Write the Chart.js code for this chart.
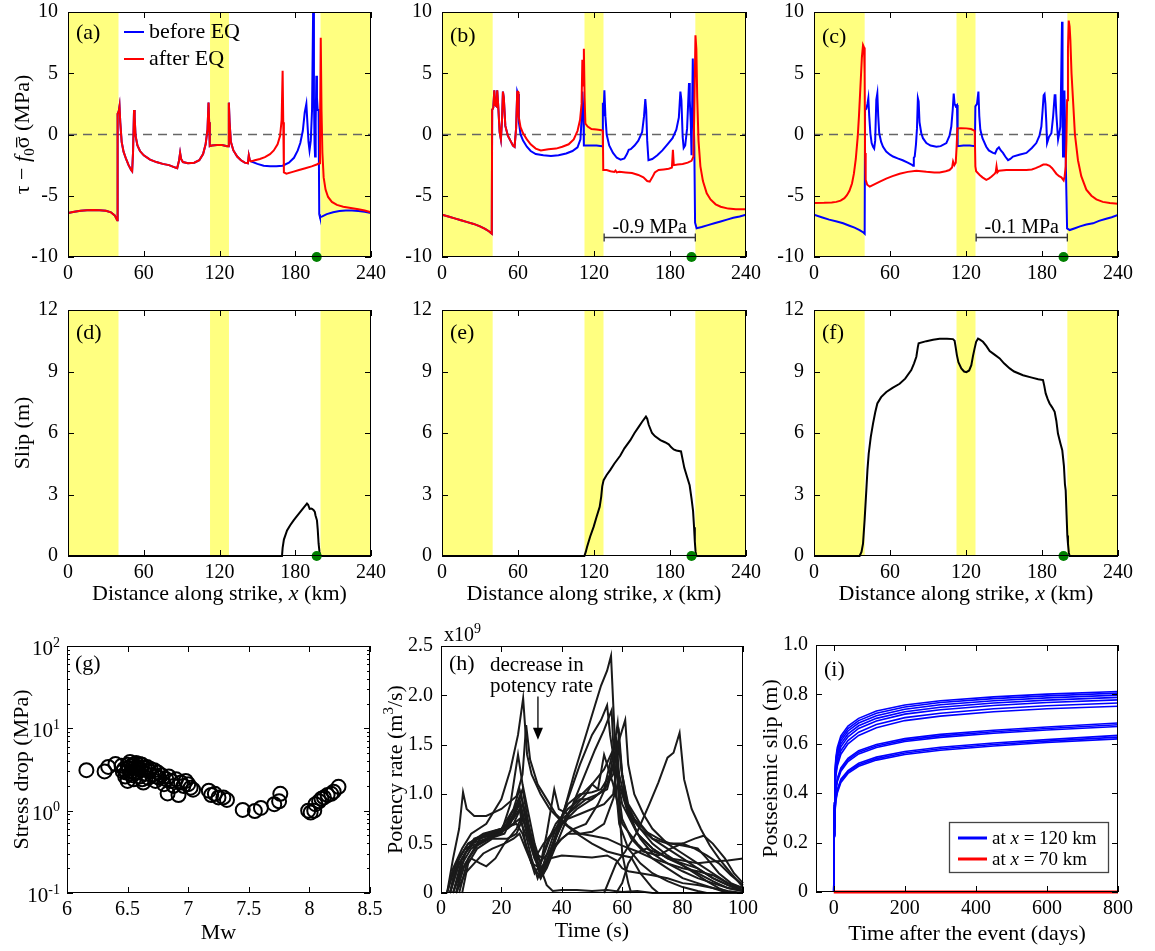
<!DOCTYPE html>
<html lang="en">
<head>
  <meta charset="UTF-8" />
  <title>Stress, slip, stress drop, potency rate and postseismic slip</title>
  <script src="https://cdn.jsdelivr.net/npm/chart.js"></script>
  <style>
    body {
      margin: 0;
      background: #fff;
      width: 1155px;
      height: 951px;
      position: relative;
      overflow: hidden;
    }
    canvas { position: absolute; }
  </style>
</head>
<body>
  <canvas id="pa"></canvas>
  <canvas id="pb"></canvas>
  <canvas id="pc"></canvas>
  <canvas id="pd"></canvas>
  <canvas id="pe"></canvas>
  <canvas id="pf"></canvas>
  <canvas id="pg"></canvas>
  <canvas id="ph"></canvas>
  <canvas id="pi"></canvas>

  <script>
    // ---- data ----
    const strikeTicks = [0, 60, 120, 180, 240];
    const stressTicks = [-10, -5, 0, 5, 10];
    const stressLabels = ['-10', '-5', '0', '5', '10'];
    const slipTicks = [0, 3, 6, 9, 12];
    const bands = [[0, 40], [112.5, 127.5], [200, 240]];
    const hypoX = 197;

    // (a) stress before / after EQ
    const aCommon = [[0,-6.4],[5,-6.3],[10,-6.22],[15,-6.18],[20,-6.17],[25,-6.18],[30,-6.22],[34,-6.35],[37,-6.6],[39,-7.0],[39.3,1.7],[40.2,1.9],[40.8,2.3],[41.4,1.0],[42.5,-0.6],[44,-1.4],[46,-2.0],[48,-2.5],[50,-2.9],[50.8,-3.0],[51.5,-1.5],[52.3,2.0],[52.8,1.4],[53.5,-0.1],[55,-0.9],[57,-1.35],[60,-1.7],[65,-2.05],[70,-2.25],[75,-2.4],[80,-2.5],[85,-2.7],[86.5,-2.75],[88,-2.1],[88.8,-1.5],[89.6,-2.0],[91,-2.25],[95,-2.35],[100,-2.3],[104,-2.1],[107,-1.6],[109,-0.8],[110.5,0.4],[111.3,2.6],[111.8,1.0],[112.3,-0.95],[114,-0.9],[118,-0.85],[122,-0.85],[126,-0.95],[126.8,-0.95],[127.4,2.6],[128,1.0],[129,-0.6],[131,-1.3],[134,-1.8],[137,-2.1],[140,-2.3],[142.5,-2.35],[143.2,-1.7],[144,-2.1],[145,-2.2]];
    const aBeforeTail = [[150,-2.4],[155,-2.55],[160,-2.6],[165,-2.6],[170,-2.55],[175,-2.3],[179,-1.9],[182,-1.3],[184,-0.7],[186,0.3],[187.5,1.8],[188.8,2.5],[189.6,1.0],[190.5,-0.6],[191.3,-1.3],[192.3,-0.5],[193.3,2.0],[194.2,10.5],[194.8,3.0],[195.3,-0.8],[195.7,-1.8],[196.2,1.0],[196.7,4.8],[197.2,3.0],[197.8,2.0],[198.5,2.0],[199,-6.5],[199.6,-6.75],[201,-6.7],[205,-6.5],[210,-6.35],[215,-6.25],[220,-6.2],[225,-6.2],[230,-6.25],[235,-6.3],[240,-6.4]];
    const aAfterTail = [[148,-2.1],[152,-2.0],[156,-1.85],[160,-1.6],[163,-1.3],[166,-0.8],[168,-0.1],[169.2,1.2],[170,5.2],[170.5,1.0],[171,-3.1],[173,-3.2],[178,-3.05],[183,-2.9],[188,-2.75],[193,-2.6],[197,-2.45],[199,-2.35],[199.6,0],[200.2,7.9],[200.8,2.0],[201.5,-1.5],[202.5,-3.5],[204,-4.5],[206,-5.1],[209,-5.5],[213,-5.75],[218,-5.9],[224,-6.0],[230,-6.1],[235,-6.2],[240,-6.35]];

    // (b)
    const bCommon = [[0,-6.55],[5,-6.7],[10,-6.85],[15,-7.0],[20,-7.15],[25,-7.3],[30,-7.5],[34,-7.7],[37,-7.9],[39.3,-8.1],[39.6,2.0],[40.5,2.2],[41.3,3.6],[42,2.4],[43,2.3],[43.6,3.6],[44.3,2.5],[45.5,0.2],[46.5,-0.4],[47.3,1.0],[48.1,3.5],[48.8,3.0],[50,0.7],[52,-0.1],[54,-0.5],[56,-0.9],[57.3,-1.0]];
    const bBeforeTail = [[58.5,0.5],[59.4,3.5],[60,3.3],[60.7,1.0],[62,0.0],[64,-0.5],[67,-1.0],[70,-1.35],[74,-1.6],[80,-1.7],[86,-1.75],[92,-1.7],[98,-1.55],[103,-1.35],[107,-1.05],[109.3,-0.4],[110.3,1.5],[110.8,3.5],[111.5,2.2],[112,-0.9],[116,-0.9],[122,-0.9],[126.5,-0.95],[127,2.6],[127.5,1.5],[128.2,3.6],[129,1.5],[130,0.0],[132,-0.9],[135,-1.5],[138,-1.9],[141,-2.05],[144,-1.95],[146,-1.6],[147.4,-1.25],[149,-1.2],[152,-0.9],[155,-0.5],[158,0.2],[159.5,1.5],[160.5,2.9],[161.2,2.0],[162,-0.5],[163,-2.1],[166,-2.0],[170,-1.7],[174,-1.3],[178,-0.8],[182,-0.3],[185,0.4],[187,1.4],[188.2,3.5],[189,2.8],[190,-0.2],[190.8,-1.1],[192,-0.9],[193.5,0.5],[195,4.2],[195.6,2.8],[196.4,1.0],[197,-1.7],[198,6.2],[198.6,2.0],[199.2,-1.0],[199.8,-7.2],[201,-7.65],[205,-7.55],[210,-7.4],[215,-7.25],[220,-7.1],[225,-6.95],[230,-6.8],[235,-6.7],[240,-6.55]];
    const bAfterTail = [[58.5,0.5],[59.4,3.5],[60,3.5],[60.5,1.5],[62,0.6],[64,0.1],[67,-0.4],[70,-0.8],[74,-1.15],[78,-1.3],[84,-1.2],[90,-1.15],[95,-1.0],[100,-0.8],[104,-0.4],[107,0.3],[109,1.2],[110.2,2.5],[110.8,6.1],[111.4,4.0],[112,7.0],[112.6,3.0],[113.2,0.9],[115,0.65],[118,0.45],[122,0.4],[126,0.35],[127,0.3],[127.3,-2.9],[130,-2.9],[133,-3.0],[136,-3.05],[137,-2.95],[138,-3.1],[140,-3.05],[145,-3.1],[150,-3.15],[155,-3.3],[159,-3.5],[162,-3.8],[164,-3.85],[166,-3.5],[168,-3.1],[171,-2.9],[175,-2.85],[179,-2.8],[181.5,-2.7],[182.3,-1.25],[183,-2.5],[186,-2.45],[190,-2.4],[194,-2.3],[197,-2.15],[198.5,-1.8],[199.2,2.0],[200.1,8.1],[200.8,7.0],[201.5,3.0],[202.5,-0.5],[204,-2.6],[206,-3.8],[209,-4.8],[212,-5.3],[216,-5.7],[220,-5.9],[226,-6.05],[232,-6.1],[240,-6.1]];

    // (c)
    const cBefore = [[0,-6.55],[6,-6.75],[12,-6.95],[18,-7.1],[23,-7.25],[28,-7.45],[32,-7.6],[36,-7.8],[39,-8.0],[40,-8.1],[40.3,2.0],[41.3,2.1],[42.2,2.5],[42.9,2.96],[43.6,1.5],[44.5,0.1],[45.5,-0.7],[46.6,-1.0],[47.5,-1.15],[48.3,-0.5],[49.2,2.85],[50,3.35],[50.7,1.5],[51.5,0.1],[53,-0.6],[54.5,-1.0],[57,-1.4],[60,-1.65],[62.4,-1.8],[66,-1.95],[70,-2.1],[74,-2.3],[77,-2.45],[78.2,-2.55],[78.8,-1.9],[79.5,-1.8],[80.5,-0.8],[81.3,0.5],[82,2.96],[82.6,2.7],[83.3,1.0],[84.7,0.1],[86,-0.3],[88.7,-0.7],[92,-0.9],[96.6,-1.0],[100,-0.95],[104.5,-0.7],[107,-0.1],[108.4,0.65],[109.5,2.0],[110.3,3.35],[111,2.5],[111.9,2.3],[112.9,2.4],[113.4,-0.95],[118,-0.9],[123,-0.9],[127,-0.95],[127.4,2.3],[128.7,2.5],[129.8,3.5],[130.5,1.5],[131.3,0.4],[133,-0.3],[136,-1.0],[138,-1.3],[141.3,-1.5],[143,-1.55],[144.5,-1.2],[146,-1.05],[147.5,-1.3],[149.2,-1.5],[151,-1.8],[153.2,-2.1],[155,-2.0],[157.1,-1.8],[162,-1.65],[167.7,-1.5],[172,-1.1],[175.5,-0.7],[178,-0.1],[179.5,0.65],[180.5,2.0],[181.3,3.2],[182,3.3],[182.7,2.5],[183.4,1.0],[184,-0.7],[185.5,-0.2],[187.4,0.1],[188.8,1.5],[190,3.2],[190.6,3.2],[191.3,1.7],[192.7,-0.4],[193.8,0.2],[194.5,0.65],[195.2,5.0],[195.8,9.2],[196.2,2.0],[196.6,-1.8],[197.2,1.0],[197.7,3.6],[198.2,1.0],[198.7,-1.8],[199.3,-5.0],[199.8,-7.66],[201.9,-7.8],[206,-7.65],[210,-7.5],[215,-7.35],[220.3,-7.25],[225,-7.05],[230,-6.9],[235,-6.75],[240,-6.57]];
    const cAfter = [[0,-5.6],[8,-5.58],[14,-5.55],[17.6,-5.5],[21,-5.4],[24,-5.2],[26,-4.95],[28,-4.6],[30,-4.0],[31.5,-3.2],[33,-2.0],[34.5,-0.2],[35.5,1.5],[36.8,4.2],[37.8,6.3],[38.7,7.3],[39.5,7.1],[40,5.0],[40.3,-1.5],[40.8,-3.7],[42,-4.1],[44,-4.25],[46,-4.15],[48,-4.05],[52,-3.85],[57,-3.6],[62,-3.4],[67.6,-3.2],[74,-3.05],[80.8,-2.96],[88.7,-3.05],[95,-3.1],[99.2,-3.1],[104,-3.0],[107,-2.9],[109,-2.7],[109.8,-2.2],[110.8,-2.5],[111.9,-2.3],[112.6,-1.0],[113.2,0.5],[116,0.52],[120.3,0.5],[124,0.45],[126.9,0.3],[127.4,-2.6],[128,-3.0],[130.8,-3.3],[133,-3.5],[136,-3.7],[138,-3.6],[140,-3.45],[142.7,-3.2],[143.5,-3.05],[144.1,-2.6],[144.8,-3.1],[146,-2.95],[151.9,-2.9],[160,-2.9],[167.7,-2.9],[172,-2.85],[175,-2.75],[178.2,-2.6],[181,-2.45],[183.5,-2.45],[186,-2.55],[188,-2.75],[191.3,-3.2],[193.5,-3.4],[195.3,-3.5],[197.1,-3.75],[197.9,-3.4],[198.7,-2.6],[199.3,-0.5],[199.8,2.8],[200.5,7.0],[201.1,9.3],[201.8,8.8],[202.4,7.7],[203.3,5.0],[204.5,2.8],[206,0.0],[208.4,-2.1],[211,-3.4],[215,-4.5],[219,-5.0],[222.9,-5.3],[228,-5.5],[233.5,-5.6],[240,-5.65]];

    // (d)-(f) coseismic slip
    const dSlip = [[0,0],[169.5,0],[170,0.4],[171,0.8],[173.5,1.25],[176,1.5],[178.7,1.74],[181,1.92],[184,2.15],[187,2.38],[189.3,2.56],[190.2,2.5],[191.4,2.3],[192.5,2.32],[193.3,2.3],[194.6,2.23],[195.5,2.15],[196,1.99],[197.2,1.74],[197.8,1.3],[198.5,0.6],[199.2,0.2],[199.9,0],[240,0]];
    const eSlip = [[0,0],[112.4,0],[113.5,0.2],[114.5,0.44],[117,0.95],[119.7,1.42],[122,1.9],[124.5,2.4],[125.7,2.9],[126.5,3.4],[127.6,3.7],[130,3.95],[132.9,4.2],[136,4.5],[140.8,4.9],[144,5.25],[148.7,5.65],[152,6.0],[155.3,6.3],[158,6.55],[161,6.8],[162,6.7],[163.2,6.4],[165.8,6.0],[168,5.85],[172.4,5.65],[176,5.55],[179,5.45],[181,5.3],[182.9,5.2],[185,5.15],[188.7,5.1],[190,4.7],[191.3,4.3],[193.5,3.85],[195.5,3.45],[197,2.8],[198.2,2.2],[199,1.4],[199.6,0.7],[200.2,0.2],[200.8,0],[240,0]];
    const fSlip = [[0,0],[36,0],[37.5,0.2],[38.7,0.6],[40,1.8],[41.3,3.2],[42.2,4.2],[43.2,5.0],[44.8,5.8],[46.6,6.46],[48.3,7.0],[50,7.44],[53,7.75],[57.1,8.0],[62,8.2],[67.6,8.4],[72,8.65],[76.8,9.07],[79,9.4],[80.8,9.72],[82,10.2],[82.6,10.37],[88.7,10.48],[94,10.55],[99.2,10.6],[105,10.6],[109.7,10.58],[111,10.5],[111.8,10.2],[112.8,9.8],[114,9.45],[116.3,9.15],[118.5,9.0],[120.3,8.97],[122.5,9.05],[124.2,9.31],[125.5,9.75],[126.8,10.13],[128,10.45],[129.5,10.6],[131,10.55],[133.4,10.45],[136,10.25],[138.7,10.0],[142,9.85],[146.6,9.64],[150,9.4],[154.5,9.15],[158,9.0],[165,8.82],[172,8.7],[177,8.62],[180.8,8.58],[181.8,8.3],[182.9,7.93],[184.5,7.65],[186,7.44],[188,7.25],[190,7.03],[191.3,6.6],[192.6,5.97],[194.5,5.5],[196,5.16],[197.3,4.4],[198.1,3.5],[198.7,3.2],[199.4,2.0],[200,1.0],[200.5,0.6],[201.2,0.15],[201.8,0],[240,0]];

    // (g) stress drop vs Mw
    const mwTicks = [6, 6.5, 7, 7.5, 8, 8.5];
    const mwLabels = ['6', '6.5', '7', '7.5', '8', '8.5'];
    const dropTicks = [0.1, 1, 10, 100];
    const dropExponents = ['-1', '0', '1', '2'];
    const mw = [6.16,6.31,6.34,6.40,6.45,6.46,6.47,6.48,6.49,6.50,6.50,6.51,6.52,6.52,6.53,6.53,6.54,6.55,6.55,6.56,6.56,6.57,6.58,6.58,6.59,6.60,6.60,6.61,6.62,6.62,6.63,6.64,6.65,6.66,6.67,6.68,6.69,6.70,6.72,6.73,6.74,6.75,6.76,6.78,6.80,6.82,6.83,6.84,6.86,6.88,6.90,6.92,6.94,6.96,6.98,7.00,7.02,7.04,7.17,7.19,7.22,7.25,7.29,7.32,7.45,7.55,7.60,7.71,7.75,7.76,7.99,8.01,8.04,8.05,8.08,8.10,8.12,8.15,8.18,8.20,8.24];
    const stressDrop = [3.1,3.0,3.4,3.7,3.5,3.0,3.2,2.6,2.9,3.6,2.3,3.3,3.9,2.8,3.0,3.5,2.7,3.6,2.4,3.3,2.9,3.8,2.9,3.3,3.4,2.6,3.7,3.1,3.6,2.4,2.2,3.3,2.8,3.4,2.5,3.0,3.2,2.7,3.1,2.3,2.6,2.9,2.5,2.7,2.1,2.4,1.62,2.6,2.3,2.0,2.4,1.55,2.2,2.0,2.3,2.1,1.9,1.8,1.75,1.55,1.6,1.45,1.45,1.35,1.02,0.99,1.08,1.2,1.3,1.6,1.0,0.95,1.0,1.2,1.3,1.4,1.45,1.55,1.6,1.7,1.95];

    // (h) potency rate (x10^9 m^3/s) vs time (s)
    const timeTicks = [0, 20, 40, 60, 80, 100];
    const potTicks = [0, 0.5, 1.0, 1.5, 2.0, 2.5];
    const potLabels = ['0', '0.5', '1.0', '1.5', '2.0', '2.5'];
    const h1 = [[2,0],[4,0.25],[7,0.45],[10,0.6],[15,0.7],[20,0.95],[23,1.25],[25.5,1.6],[27.2,1.97],[28.5,1.4],[30,1.2],[33,1.0],[36,0.85],[40,0.72],[45,0.6],[50,0.5],[55,0.42],[60,0.38],[63,0.36],[66,0.2],[70,0.05],[72,0]];
    const h2 = [[2,0],[4,0.35],[6,0.65],[7.3,1.02],[8.5,0.85],[11,0.78],[15,0.78],[20,0.85],[25,0.98],[27,1.2],[28.2,1.7],[29.5,1.35],[32,1.1],[35,0.95],[38,0.8],[42,0.68],[46,0.6],[50,0.58],[55,0.55],[60,0.48],[65,0.42],[70,0.35],[75,0.3],[80,0.25],[85,0.22],[90,0.18],[95,0.1],[100,0.05]];
    const h3 = [[3,0],[5,0.3],[9,0.5],[14,0.58],[20,0.6],[24,0.8],[26,0.95],[29,0.55],[32,0.3],[34,0.2],[36,0.35],[40,0.75],[44,1.2],[48,1.6],[51,1.9],[53,2.1],[55,2.25],[56.3,2.4],[57.5,1.6],[59,0.9],[60,0.4],[62,0.1],[63,0]];
    const h4 = [[3,0],[6,0.3],[10,0.5],[15,0.6],[20,0.65],[24,0.85],[26,1.05],[28,0.8],[31,0.45],[33,0.2],[35,0.3],[38,0.6],[42,0.95],[46,1.3],[50,1.6],[53,1.75],[55,1.9],[56,1.6],[57.5,1.3],[60,0.9],[65,0.6],[70,0.45],[75,0.35],[80,0.3],[85,0.25],[90,0.15],[95,0.08],[100,0.02]];
    const h5 = [[4,0],[7,0.3],[10,0.45],[15,0.55],[20,0.6],[25,0.9],[27,1.05],[29,0.7],[31,0.4],[33,0.15],[35,0.25],[39,0.55],[43,0.85],[47,1.15],[51,1.45],[54,1.65],[56.5,1.85],[57.5,1.2],[59,0.7],[62,0.45],[66,0.3],[70,0.2],[75,0.12],[80,0.06],[85,0.02],[88,0]];
    const h6 = [[5,0],[8,0.3],[12,0.48],[18,0.58],[24,0.7],[27,0.9],[30,0.55],[32,0.3],[34,0.25],[37,0.5],[41,0.75],[45,0.95],[50,1.1],[54,1.25],[57,1.45],[59,1.55],[61,1.75],[62,1.3],[64,1.0],[67,0.8],[70,0.65],[75,0.5],[80,0.4],[85,0.3],[90,0.2],[95,0.1],[100,0.03]];
    const h7 = [[4,0],[7,0.35],[11,0.55],[16,0.6],[22,0.65],[26,0.75],[28,0.6],[30,0.35],[32,0.15],[34,0.3],[38,0.65],[42,0.9],[46,1.0],[50,1.02],[53,1.05],[56,1.2],[58.5,1.72],[59.5,1.3],[61,0.95],[64,0.75],[68,0.62],[72,0.55],[76,0.5],[80,0.48],[85,0.45],[88,0.35],[92,0.2],[96,0.1],[100,0.05]];
    const h8 = [[3,0],[6,0.35],[9,0.5],[14,0.6],[20,0.65],[25,0.7],[27,0.6],[30,0.3],[33,0.15],[36,0.4],[40,0.7],[45,0.85],[50,0.95],[54,1.05],[57,1.2],[59,1.6],[60,1.2],[62,0.9],[66,0.7],[70,0.55],[75,0.45],[80,0.35],[85,0.25],[90,0.15],[95,0.08],[100,0.02]];
    const h9 = [[2,0],[5,0.3],[8,0.45],[12,0.5],[16,0.55],[21,0.6],[25,0.85],[26.5,1.0],[28,0.75],[30,0.5],[33,0.3],[36,0.55],[40,0.75],[44,0.85],[48,0.95],[52,1.0],[55,1.05],[58,1.4],[59,1.1],[62,0.85],[66,0.65],[70,0.5],[75,0.38],[80,0.28],[84,0.2],[88,0.12],[92,0.05],[96,0]];
    const h10 = [[3,0],[6,0.3],[10,0.5],[15,0.55],[20,0.62],[23,0.9],[25.5,1.4],[27,1.1],[29,0.8],[31,0.5],[33,0.3],[35,0.5],[38,0.7],[42,0.85],[46,0.95],[50,0.95],[54,1.05],[57,1.45],[58,1.55],[59,1.2],[62,0.8],[66,0.55],[70,0.4],[75,0.3],[80,0.22],[85,0.15],[90,0.1],[95,0.05],[100,0.02]];
    const h11 = [[4,0],[7,0.25],[10,0.35],[13,0.3],[15,0.27],[18,0.35],[21,0.5],[25,0.65],[27,0.8],[29,0.55],[31,0.35],[34,0.5],[38,0.65],[42,0.75],[46,0.8],[50,0.85],[54,0.9],[57,1.0],[59,1.5],[60,1.2],[62,0.85],[65,0.6],[70,0.45],[75,0.35],[80,0.28],[85,0.2],[90,0.12],[95,0.05],[100,0.02]];
    const h12 = [[5,0],[8,0.2],[11,0.3],[14,0.4],[17,0.45],[21,0.5],[24,0.55],[26,0.6],[28,0.45],[30,0.3],[33,0.25],[36,0.35],[40,0.38],[45,0.37],[50,0.36],[55,0.38],[58,0.33],[60,0.25],[62,0.22],[66,0.2],[70,0.18],[75,0.15],[80,0.1],[85,0.08],[90,0.05],[95,0.02],[100,0]];
    const h13 = [[54,0],[56,0.15],[58,0.3],[61,0.42],[65,0.62],[69,0.9],[72,1.12],[75,1.37],[77,1.42],[79,1.62],[80.5,1.15],[83,0.85],[86,0.65],[89,0.48],[92,0.35],[96,0.2],[100,0.06]];
    const h14 = [[33,0.25],[35,0.08],[37,0.02],[40,0.03],[45,0.03],[50,0.02],[55,0.03],[60,0.01],[65,0.02],[70,0],[100,0]];
    const h15 = [[58,0],[60,0.1],[62,0.3],[64,0.4],[68,0.45],[72,0.4],[76,0.35],[80,0.33],[85,0.3],[90,0.32],[95,0.33],[100,0.35]];
    const h16 = [[6,0],[9,0.35],[13,0.55],[18,0.6],[23,0.7],[26,0.9],[28,0.65],[31,0.35],[33,0.2],[36,0.4],[40,0.55],[44,0.65],[48,0.7],[52,0.9],[55,1.1],[57,1.3],[58,1.5],[59,1.1],[62,0.8],[66,0.65],[70,0.55],[75,0.5],[80,0.5],[84,0.55],[87,0.58],[90,0.5],[94,0.35],[97,0.2],[100,0.1]];
    const h17 = [[7,0],[9,0.3],[12,0.45],[17,0.55],[22,0.55],[25,0.6],[27,0.75],[29,0.6],[31,0.4],[34,0.35],[38,0.5],[42,0.6],[46,0.6],[50,0.62],[54,0.7],[57,0.95],[58.5,1.1],[60,0.75],[63,0.55],[67,0.42],[72,0.38],[76,0.45],[80,0.5],[84,0.45],[88,0.38],[92,0.3],[96,0.18],[100,0.08]];
    const h18 = [[5,0],[8,0.4],[12,0.55],[18,0.6],[24,0.75],[26,0.85],[28,0.5],[31,0.2],[33,0.3],[35,0.6],[37.5,1.05],[39,0.85],[42,0.8],[45,0.9],[48,1.0],[50,1.1],[52,1.05],[54,1.4],[55,1.3],[57,1.1],[60,0.7],[65,0.5],[70,0.35],[75,0.25],[80,0.15],[85,0.1],[90,0.05],[95,0]];
    const hCurves = [h1, h2, h3, h4, h5, h6, h7, h8, h9, h10, h11, h12, h13, h14, h15, h16, h17, h18];

    // (i) postseismic slip (m) vs days after event
    const dayTicks = [0, 200, 400, 600, 800];
    const psTicks = [0, 0.2, 0.4, 0.6, 0.8, 1.0];
    const psLabels = ['0', '0.2', '0.4', '0.6', '0.8', '1.0'];
    const days = [0, 1, 3, 6, 10, 20, 40, 70, 120, 200, 300, 450, 600, 800];
    const slip120 = [
      [0,0.36,0.48,0.545,0.585,0.632,0.672,0.703,0.733,0.757,0.774,0.790,0.801,0.812],
      [0,0.35,0.47,0.535,0.575,0.622,0.662,0.694,0.724,0.749,0.767,0.783,0.794,0.805],
      [0,0.34,0.46,0.525,0.565,0.612,0.652,0.684,0.714,0.740,0.758,0.774,0.786,0.797],
      [0,0.33,0.45,0.512,0.552,0.600,0.640,0.673,0.703,0.730,0.748,0.765,0.777,0.788],
      [0,0.32,0.44,0.50,0.540,0.588,0.628,0.662,0.692,0.720,0.738,0.755,0.767,0.778],
      [0,0.31,0.425,0.485,0.524,0.572,0.613,0.647,0.678,0.706,0.724,0.742,0.754,0.765],
      [0,0.30,0.41,0.47,0.510,0.558,0.600,0.634,0.665,0.694,0.712,0.730,0.742,0.752],
      [0,0.27,0.37,0.425,0.46,0.503,0.541,0.572,0.597,0.621,0.638,0.655,0.668,0.684],
      [0,0.265,0.362,0.418,0.453,0.496,0.535,0.566,0.591,0.615,0.632,0.649,0.662,0.677],
      [0,0.26,0.355,0.41,0.446,0.489,0.528,0.559,0.585,0.609,0.626,0.643,0.656,0.670],
      [0,0.235,0.33,0.383,0.415,0.457,0.492,0.521,0.546,0.569,0.586,0.603,0.617,0.634],
      [0,0.23,0.323,0.376,0.408,0.450,0.486,0.515,0.540,0.563,0.580,0.597,0.611,0.627],
      [0,0.225,0.316,0.369,0.401,0.443,0.480,0.509,0.534,0.557,0.574,0.591,0.605,0.620]
    ];
    const slip70 = [0, 0, 0, 0, 0, 0, 0, 0, 0, 0, 0, 0, 0, 0];

    // ---- drawing ----
    const FONT = '"Liberation Serif", "Times New Roman", serif';
    const YELLOW = '#ffff80';
    Chart.defaults.font.family = FONT;
    Chart.defaults.font.size = 20;
    Chart.defaults.color = '#000';
    Chart.defaults.animation = false;
    Chart.defaults.events = [];
    Chart.defaults.plugins.legend.display = false;
    Chart.defaults.plugins.tooltip.enabled = false;

    const PAD = { l: 70, t: 30, r: 30, b: 60 };

    function axis(dir, type, min, max, ticks, labels, pad) {
      return {
        type, min, max,
        afterBuildTicks: s => { s.ticks = ticks.map(v => ({ value: v })); },
        afterFit: s => { if (dir === 'x') s.height = PAD.b; else s.width = PAD.l; },
        grid: { display: false, drawTicks: false },
        border: { display: false },
        ticks: { autoSkip: false, maxRotation: 0, padding: pad, color: '#000', font: { size: 20 },
          callback: (v, i) => labels ? labels[i] : '' }
      };
    }

    // text with italic / subscript / superscript / overbar pieces
    function rich(ctx, parts, x, y, size, rot, align) {
      ctx.save();
      ctx.translate(x, y);
      if (rot) ctx.rotate(rot);
      const fontOf = p => (p.i ? 'italic ' : '') + Math.round(p.sub || p.sup ? size * 0.68 : size) + 'px ' + FONT;
      let w = 0;
      parts.forEach(p => { ctx.font = fontOf(p); p.w = ctx.measureText(p.t).width; w += p.w; });
      let cx = align === 'left' ? 0 : align === 'right' ? -w : -w / 2;
      const base = size * 0.33;
      ctx.fillStyle = '#000';
      ctx.textAlign = 'left';
      ctx.textBaseline = 'alphabetic';
      parts.forEach(p => {
        ctx.font = fontOf(p);
        const dy = base + (p.sub ? size * 0.22 : p.sup ? -size * 0.4 : 0);
        ctx.fillText(p.t, cx, dy);
        if (p.bar) ctx.fillRect(cx + 1, base - size * 0.6, p.w - 2, 1.2);
        cx += p.w;
      });
      ctx.restore();
    }

    function decor(o) {
      return {
        id: 'decor',
        beforeDatasetsDraw(chart) {
          if (!o.bands) return;
          const { ctx, chartArea: a, scales: { x } } = chart;
          ctx.save();
          ctx.fillStyle = YELLOW;
          o.bands.forEach(([b0, b1]) => {
            const p0 = x.getPixelForValue(b0), p1 = x.getPixelForValue(b1);
            ctx.fillRect(p0, a.top, p1 - p0, a.bottom - a.top);
          });
          ctx.restore();
        },
        afterDraw(chart) {
          const { ctx, chartArea: a, scales: { x, y } } = chart;
          ctx.save();
          ctx.strokeStyle = '#000';
          ctx.lineWidth = 1;
          ctx.strokeRect(a.left + 0.5, a.top + 0.5, a.right - a.left - 1, a.bottom - a.top - 1);
          ctx.beginPath();
          x.ticks.forEach(t => {
            const px = Math.round(x.getPixelForValue(t.value)) + 0.5;
            ctx.moveTo(px, a.bottom); ctx.lineTo(px, a.bottom - 6);
            ctx.moveTo(px, a.top); ctx.lineTo(px, a.top + 6);
          });
          y.ticks.forEach(t => {
            const py = Math.round(y.getPixelForValue(t.value)) + 0.5;
            ctx.moveTo(a.left, py); ctx.lineTo(a.left + 6, py);
            ctx.moveTo(a.right, py); ctx.lineTo(a.right - 6, py);
          });
          if (o.minorLog) {
            o.minorLog.forEach(v => {
              const py = Math.round(y.getPixelForValue(v)) + 0.5;
              ctx.moveTo(a.left, py); ctx.lineTo(a.left + 3, py);
              ctx.moveTo(a.right, py); ctx.lineTo(a.right - 3, py);
            });
          }
          ctx.stroke();
          ctx.restore();

          ctx.save();
          ctx.fillStyle = '#000';
          ctx.font = '22px ' + FONT;
          ctx.textBaseline = 'middle';
          ctx.fillText(o.label, a.left + 8, a.top + (o.labelDy || 22));
          ctx.restore();

          if (o.ytitle) rich(ctx, o.ytitle, a.left - 46, (a.top + a.bottom) / 2, 22, -Math.PI / 2);
          if (o.xtitle) rich(ctx, o.xtitle, (a.left + a.right) / 2, a.bottom + (o.xtitleDy || 38), 22);
          if (o.extra) o.extra(chart, ctx, a, x, y);
        }
      };
    }

    function makeChart(id, box, datasets, xs, ys, deco) {
      const cv = document.getElementById(id);
      const [L, T, R, B] = box;
      cv.width = R - L + PAD.l + PAD.r;
      cv.height = B - T + PAD.t + PAD.b;
      cv.style.left = (L - PAD.l) + 'px';
      cv.style.top = (T - PAD.t) + 'px';
      return new Chart(cv, {
        type: 'line',
        data: { datasets },
        options: {
          responsive: false,
          layout: { padding: { left: 0, top: PAD.t, right: PAD.r, bottom: 0 } },
          scales: { x: xs, y: ys }
        },
        plugins: [decor(deco)]
      });
    }

    const line = (data, color, width, extra) => Object.assign(
      { type: 'line', data, borderColor: color, borderWidth: width, pointRadius: 0, fill: false, tension: 0 }, extra || {});
    const dot = (yv) => ({ type: 'scatter', data: [[hypoX, yv]], pointRadius: 5, backgroundColor: '#008000', borderWidth: 0, clip: false });
    const zeroDash = line([[0, 0], [240, 0]], '#666', 1.3, { borderDash: [9, 6] });

    const stressTitle = [{ t: 'τ − ' }, { t: 'f', i: 1 }, { t: '0', sub: 1 }, { t: 'σ', bar: 1 }, { t: ' (MPa)' }];
    const strikeTitle = [{ t: 'Distance along strike, ' }, { t: 'x', i: 1 }, { t: ' (km)' }];

    function legendA(chart, ctx, a) {
      ctx.save();
      ctx.lineWidth = 2;
      [['#0000ff', 'before EQ', 20], ['#ff0000', 'after EQ', 47]].forEach(([c, t, dy]) => {
        ctx.strokeStyle = c;
        ctx.beginPath(); ctx.moveTo(a.left + 56, a.top + dy); ctx.lineTo(a.left + 76, a.top + dy); ctx.stroke();
        ctx.fillStyle = '#000'; ctx.font = '22px ' + FONT; ctx.textBaseline = 'middle';
        ctx.fillText(t, a.left + 81, a.top + dy);
      });
      ctx.restore();
    }

    function bracket(text) {
      return (chart, ctx, a, x, y) => {
        const x0 = x.getPixelForValue(128), x1 = x.getPixelForValue(200), py = Math.round(y.getPixelForValue(-8.4)) + 0.5;
        ctx.save();
        ctx.strokeStyle = '#333'; ctx.lineWidth = 1.3;
        ctx.beginPath();
        ctx.moveTo(x0, py); ctx.lineTo(x1, py);
        ctx.moveTo(x0, py - 4); ctx.lineTo(x0, py + 4);
        ctx.moveTo(x1, py - 4); ctx.lineTo(x1, py + 4);
        ctx.stroke();
        ctx.fillStyle = '#000'; ctx.font = '20px ' + FONT; ctx.textAlign = 'center'; ctx.textBaseline = 'alphabetic';
        ctx.fillText(text, (x0 + x1) / 2, py - 5);
        ctx.restore();
      };
    }

    // row 1
    makeChart('pa', [68, 12, 371, 257],
      [dot(-10), line(aCommon.concat(aAfterTail), '#ff0000', 2), line(aCommon.concat(aBeforeTail), '#0000ff', 2), zeroDash],
      axis('x', 'linear', 0, 240, strikeTicks, strikeTicks.map(String), 5),
      axis('y', 'linear', -10, 10, stressTicks, stressLabels, 10),
      { bands, label: '(a)', labelDy: 21, ytitle: stressTitle, extra: legendA });
    makeChart('pb', [442, 12, 746, 257],
      [dot(-10), line(bCommon.concat(bAfterTail), '#ff0000', 2), line(bCommon.concat(bBeforeTail), '#0000ff', 2), zeroDash],
      axis('x', 'linear', 0, 240, strikeTicks, strikeTicks.map(String), 5),
      axis('y', 'linear', -10, 10, stressTicks, stressLabels, 10),
      { bands, label: '(b)', labelDy: 24, extra: bracket('-0.9 MPa') });
    makeChart('pc', [814, 12, 1118, 257],
      [dot(-10), line(cAfter, '#ff0000', 2), line(cBefore, '#0000ff', 2), zeroDash],
      axis('x', 'linear', 0, 240, strikeTicks, strikeTicks.map(String), 5),
      axis('y', 'linear', -10, 10, stressTicks, stressLabels, 10),
      { bands, label: '(c)', labelDy: 25, extra: bracket('-0.1 MPa') });

    // row 2
    [['pd', 68, 371, dSlip, '(d)'], ['pe', 442, 746, eSlip, '(e)'], ['pf', 814, 1118, fSlip, '(f)']].forEach(([id, L, R, s, lab]) => {
      makeChart(id, [L, 310, R, 556],
        [dot(0), line(s, '#000', 2, { clip: 3 })],
        axis('x', 'linear', 0, 240, strikeTicks, strikeTicks.map(String), 5),
        axis('y', 'linear', 0, 12, slipTicks, slipTicks.map(String), 10),
        { bands, label: lab, labelDy: 23, ytitle: id === 'pd' ? [{ t: 'Slip (m)' }] : null, xtitle: strikeTitle, xtitleDy: 37 });
    });

    // row 3
    const minorLog = [];
    [0.1, 1, 10].forEach(d => { for (let k = 2; k <= 9; k++) minorLog.push(k * d); });
    function logLabels(chart, ctx, a, x, y) {
      dropTicks.forEach((v, i) => {
        rich(ctx, [{ t: '10' }, { t: dropExponents[i], sup: 1 }], a.left - 7, y.getPixelForValue(v) + 2, 21, 0, 'right');
      });
    }
    makeChart('pg', [67, 646, 370, 893],
      [{ type: 'scatter', data: mw.map((m, i) => [m, stressDrop[i]]), pointRadius: 7, pointBorderWidth: 2,
         borderColor: '#000', backgroundColor: 'rgba(0,0,0,0)', pointBackgroundColor: 'rgba(0,0,0,0)' }],
      axis('x', 'linear', 6, 8.5, mwTicks, mwLabels, 5),
      axis('y', 'logarithmic', 0.1, 100, dropTicks, null, 8),
      { label: '(g)', labelDy: 18, minorLog, ytitle: [{ t: 'Stress drop (MPa)' }], xtitle: [{ t: 'Mw' }], xtitleDy: 39, extra: logLabels });

    function annotH(chart, ctx, a, x, y) {
      rich(ctx, [{ t: 'x10' }, { t: '9', sup: 1 }], a.left + 3, a.top - 12, 20, 0, 'left');
      ctx.save();
      ctx.fillStyle = '#000'; ctx.font = '21px ' + FONT; ctx.textBaseline = 'middle';
      ctx.fillText('decrease in', a.left + 49, a.top + 19);
      ctx.fillText('potency rate', a.left + 49, a.top + 40);
      const px = x.getPixelForValue(32.1), y0 = y.getPixelForValue(1.99), y1 = y.getPixelForValue(1.55);
      ctx.strokeStyle = '#000'; ctx.lineWidth = 1.3;
      ctx.beginPath(); ctx.moveTo(px, y0); ctx.lineTo(px, y1 - 10); ctx.stroke();
      ctx.beginPath(); ctx.moveTo(px - 5, y1 - 12); ctx.lineTo(px + 5, y1 - 12); ctx.lineTo(px, y1); ctx.closePath(); ctx.fill();
      ctx.restore();
    }
    makeChart('ph', [441, 646, 743, 893],
      hCurves.map(c => line(c, '#1a1a1a', 2, { clip: 3 })),
      axis('x', 'linear', 0, 100, timeTicks, timeTicks.map(String), 4),
      axis('y', 'linear', 0, 2.5, potTicks, potLabels, 8),
      { label: '(h)', labelDy: 18, ytitle: [{ t: 'Potency rate (m' }, { t: '3', sup: 1 }, { t: '/s)' }], xtitle: [{ t: 'Time (s)' }], xtitleDy: 37, extra: annotH });

    function legendI(chart, ctx, a) {
      ctx.save();
      ctx.fillStyle = '#fff'; ctx.strokeStyle = '#444'; ctx.lineWidth = 1.3;
      ctx.fillRect(a.left + 133, a.top + 177, 159, 50);
      ctx.strokeRect(a.left + 133.5, a.top + 177.5, 159, 50);
      ctx.lineWidth = 3;
      [['#0000ff', ' = 120 km', 193], ['#ff0000', ' = 70 km', 214]].forEach(([c, t, dy]) => {
        ctx.strokeStyle = c;
        ctx.beginPath(); ctx.moveTo(a.left + 142, a.top + dy); ctx.lineTo(a.left + 171, a.top + dy); ctx.stroke();
        rich(ctx, [{ t: 'at ' }, { t: 'x', i: 1 }, { t: t }], a.left + 176, a.top + dy, 19, 0, 'left');
      });
      ctx.restore();
    }
    makeChart('pi', [816, 645, 1118, 892],
      [line(days.map((d, k) => [d, slip70[k]]), '#ff0000', 3, { clip: 4 })].concat(
        slip120.map(s => line(days.map((d, k) => [d, s[k]]), '#0000ff', 1.6))),
      axis('x', 'linear', -50, 800, dayTicks, dayTicks.map(String), 5),
      axis('y', 'linear', 0, 1.0, psTicks, psLabels, 8),
      { label: '(i)', labelDy: 25, ytitle: [{ t: 'Postseismic slip (m)' }], xtitle: [{ t: 'Time after the event (days)' }], xtitleDy: 41, extra: legendI });
  </script>
</body>
</html>
